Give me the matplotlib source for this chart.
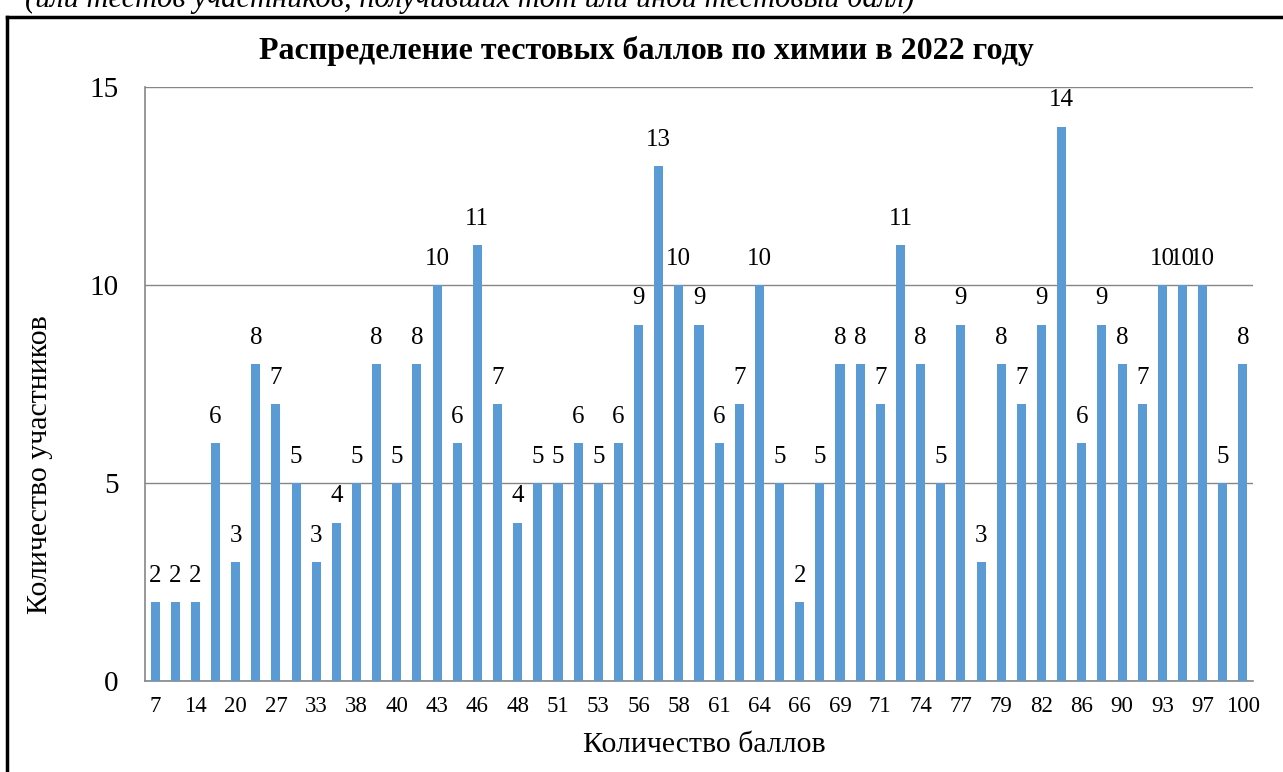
import matplotlib.pyplot as plt
from matplotlib.lines import Line2D

plt.rcParams['font.family'] = ['Liberation Serif', 'DejaVu Serif']

# баллы (подписаны только через один; скрытые значения оценены)
scores = ['7', '10', '14', '17', '20', '24', '27', '30', '33', '36', '38', '39', '40', '42',
          '43', '45', '46', '47', '48', '50', '51', '52', '53', '55', '56', '57', '58', '60',
          '61', '63', '64', '65', '66', '68', '69', '70', '71', '73', '74', '76', '77', '78',
          '79', '81', '82', '84', '86', '88', '90', '92', '93', '95', '97', '99', '100']
counts = [2, 2, 2, 6, 3, 8, 7, 5, 3, 4, 5, 8, 5, 8, 10, 6, 11, 7, 4, 5, 5, 6, 5, 6, 9, 13,
          10, 9, 6, 7, 10, 5, 2, 5, 8, 8, 7, 11, 8, 5, 9, 3, 8, 7, 9, 14, 6, 9, 8, 7, 10,
          10, 10, 5, 8]

W, H = 1283, 772
fig = plt.figure(figsize=(W / 100, H / 100), dpi=100)
ax = fig.add_axes([145 / W, 1 - 681 / H, (1253 - 145) / W, (681 - 87) / H])

x = list(range(len(counts)))
bars = ax.bar(x, counts, width=0.45, color='#5B9BD5', zorder=3)
ax.bar_label(bars, labels=[str(c) for c in counts], padding=11, fontsize=18)

ax.set_xlim(-0.5, len(counts) - 0.5)
ax.set_ylim(0, 15)
ax.set_yticks([0, 5, 10, 15])
ax.set_xticks(x[::2])
ax.set_xticklabels(scores[::2])
ax.tick_params(axis='x', length=0, labelsize=16.5, pad=11)
ax.tick_params(axis='y', length=0, labelsize=21, pad=19)
ax.grid(axis='y', color='#868686', linewidth=1, zorder=0)

for side in ['right', 'top']:
    ax.spines[side].set_visible(False)
for side in ['left', 'bottom']:
    ax.spines[side].set_color('#868686')
    ax.spines[side].set_linewidth(1.2)

fig.text(646 / W, 1 - 51 / H, 'Распределение тестовых баллов по химии в 2022 году',
         ha='center', va='center', fontsize=23, fontweight='bold')
fig.text(40 / W, 1 - 465 / H, 'Количество участников', rotation=90,
         ha='center', va='center', fontsize=21.5)
fig.text(704 / W, 1 - 745 / H, 'Количество баллов',
         ha='center', va='center', fontsize=21.5)

# обрезанная подпись сверху
fig.text(25 / W, 1 - 7 / H, '(или тестов участников, получивших тот или иной тестовый балл)',
         ha='left', va='baseline', fontsize=22, style='italic')

# рамка диаграммы
fig.add_artist(Line2D([7 / W, 7 / W], [0, 1 - 17 / H], color='black', linewidth=2.5))
fig.add_artist(Line2D([7 / W, 1], [1 - 17 / H, 1 - 17 / H], color='black', linewidth=2.5))

fig.savefig('out.png', dpi=100)
